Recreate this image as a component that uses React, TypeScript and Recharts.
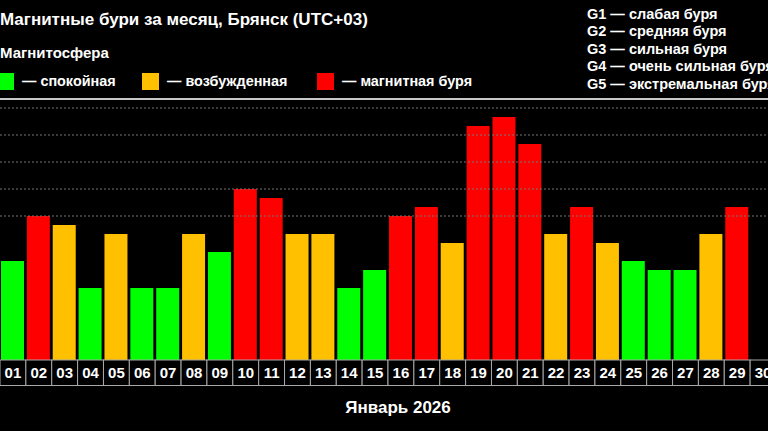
import { BarChart, Bar, XAxis, YAxis, Cell, ReferenceLine } from "recharts";

// дни января и индекс Kp за день
const days = [
  "01", "02", "03", "04", "05", "06", "07", "08", "09", "10",
  "11", "12", "13", "14", "15", "16", "17", "18", "19", "20",
  "21", "22", "23", "24", "25", "26", "27", "28", "29", "30",
];
const kp: (number | null)[] = [
  3.33, 5, 4.67, 2.33, 4.33, 2.33, 2.33, 4.33, 3.67, 6,
  5.67, 4.33, 4.33, 2.33, 3, 5, 5.33, 4, 8.33, 8.67,
  7.67, 4.33, 5.33, 4, 3.33, 3, 3, 4.33, 5.33, null,
];
const gridLevels = [5, 6, 7, 8, 9];
const stormLegend = [
  "G1 — слабая буря",
  "G2 — средняя буря",
  "G3 — сильная буря",
  "G4 — очень сильная буря",
  "G5 — экстремальная буря",
];
const stateLegend = [
  { label: "— спокойная", color: "#00ff00" },
  { label: "— возбужденная", color: "#ffc000" },
  { label: "— магнитная буря", color: "#ff0000" },
];

// столбики стартуют чуть ниже нуля шкалы
const SHIFT = 1 / 3;
const CHART_W = 776;
const SLOT = CHART_W / days.length;
const FONT = "'Liberation Sans', Arial, sans-serif";

const data = days.map((d, i) => ({ day: d, kp: kp[i] }));

function colorFor(v: number | null) {
  if (v == null) return "transparent";
  if (v >= 5) return "#ff0000";
  if (v >= 4) return "#ffc000";
  return "#00ff00";
}

function DayTick(props: any) {
  const { x, y, payload } = props;
  return (
    <g>
      <rect
        x={x - SLOT / 2}
        y={y}
        width={SLOT}
        height={25.5}
        fill="#000"
        stroke="#aaa"
        strokeWidth={1}
      />
      <text
        x={x}
        y={y + 18}
        textAnchor="middle"
        fill="#fff"
        fontSize={15}
        fontWeight="bold"
        fontFamily={FONT}
      >
        {payload.value}
      </text>
    </g>
  );
}

export default function App() {
  return (
    <div
      style={{
        position: "absolute",
        left: 0,
        top: 0,
        width: 768,
        height: 431,
        overflow: "hidden",
        background: "#000",
        fontFamily: FONT,
        color: "#fff",
        fontWeight: "bold",
      }}
    >
      <div style={{ position: "absolute", left: 0, top: 9, fontSize: 17, lineHeight: "22px", whiteSpace: "nowrap" }}>
        Магнитные бури за месяц, Брянск (UTC+03)
      </div>
      <div style={{ position: "absolute", left: 0, top: 44, fontSize: 15, lineHeight: "18px" }}>
        Магнитосфера
      </div>
      {stateLegend.map((s, i) => {
        const left = [-3, 142, 317][i];
        return (
          <div key={s.label} style={{ position: "absolute", left, top: 73, display: "flex", alignItems: "center", whiteSpace: "nowrap" }}>
            <div style={{ width: 17, height: 17, background: s.color, marginRight: 8 }} />
            <span style={{ fontSize: 14.4, lineHeight: "17px" }}>{s.label}</span>
          </div>
        );
      })}
      <div style={{ position: "absolute", left: 587, top: 6, fontSize: 14.5, lineHeight: "17.4px", whiteSpace: "nowrap" }}>
        {stormLegend.map((g) => (
          <div key={g}>{g}</div>
        ))}
      </div>
      <div style={{ position: "absolute", left: 0, top: 98, width: 768, height: 2, background: "#c8c8c8" }} />
      <div style={{ position: "absolute", left: 0, top: 0 }}>
        <BarChart
          width={CHART_W}
          height={431}
          data={data}
          margin={{ top: 108, right: 0, bottom: 0, left: 0 }}
        >
          <YAxis hide domain={[0, 9 + SHIFT]} />
          <XAxis
            dataKey="day"
            height={71}
            interval={0}
            tickSize={0}
            tickMargin={0}
            axisLine={false}
            tickLine={false}
            tick={<DayTick />}
            label={{
              value: "Январь 2026",
              position: "insideBottom",
              offset: 18,
              dx: 10,
              fill: "#fff",
              fontSize: 17,
              fontWeight: "bold",
              fontFamily: FONT,
            }}
          />
          {gridLevels.map((g) => (
            <ReferenceLine
              key={g}
              y={g + SHIFT}
              stroke="#777"
              strokeDasharray="2 2"
              strokeWidth={1}
            />
          ))}
          <Bar
            dataKey={(d: any) => (d.kp == null ? null : d.kp + SHIFT)}
            barSize={23}
            isAnimationActive={false}
          >
            {data.map((d) => (
              <Cell key={d.day} fill={colorFor(d.kp)} />
            ))}
          </Bar>
        </BarChart>
      </div>
    </div>
  );
}
